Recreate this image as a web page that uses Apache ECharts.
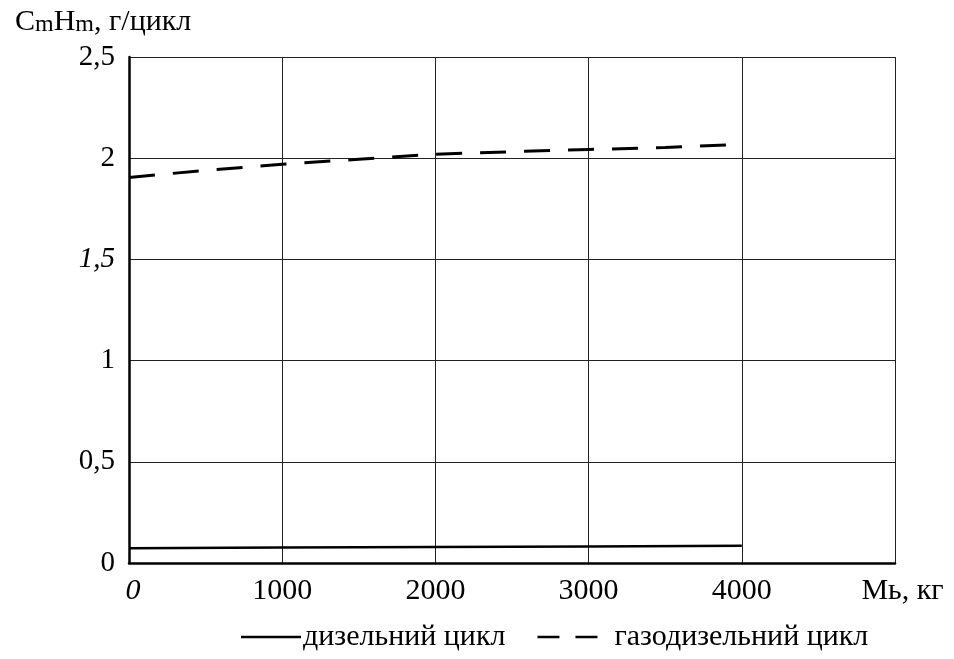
<!DOCTYPE html>
<html><head><meta charset="utf-8">
<script src="https://cdn.jsdelivr.net/npm/echarts@6/dist/echarts.min.js"></script>
<style>html,body{margin:0;padding:0;background:#fff}#c{width:954px;height:659px}</style>
</head><body><div id="c"></div>
<script>
const dieselX = [0, 1000, 2000, 3000, 4000];
const dieselY = [0.073, 0.076, 0.079, 0.082, 0.085];
const gasX = [0, 500, 1000, 1500, 2000, 2500, 3000, 3500, 3900];
const gasY = [1.905, 1.94, 1.97, 1.995, 2.02, 2.032, 2.043, 2.053, 2.065];
const xTicks = [0, 1000, 2000, 3000, 4000, 5000];
const yTicks = ['0', '0,5', '1', '1,5', '2', '2,5'];
const seriesNames = ['дизельний цикл', 'газодизельний цикл'];

const font = 'Liberation Serif';
const chart = echarts.init(document.getElementById('c'));
chart.setOption({
  animation: false,
  backgroundColor: '#fff',
  grid: { left: 129, right: 59, top: 57, bottom: 96 },
  title: {
    text: 'C{s|m}H{s|m}, г/цикл', left: 10, top: 2,
    textStyle: { fontFamily: font, fontSize: 30, fontWeight: 'normal', color: '#000',
      rich: { s: { fontFamily: font, fontSize: 24, color: '#000', padding: [5, 0, 0, 0] } } }
  },
  legend: {
    bottom: 2, left: 236, itemWidth: 60, itemHeight: 10, itemGap: 32,
    textStyle: { fontFamily: font, fontSize: 30, color: '#000', padding: [0, 0, 0, -3] },
    formatter: name => name === seriesNames[1] ? '  ' + name : name,
    data: [
      { name: seriesNames[0], icon: 'path://M0,4 L60,4 L60,6.5 L0,6.5 Z' },
      { name: seriesNames[1], icon: 'path://M0,4 L22,4 L22,6.5 L0,6.5 Z M38,4 L60,4 L60,6.5 L38,6.5 Z' }
    ]
  },
  xAxis: {
    type: 'value', min: 0, max: 5000, interval: 1000,
    axisLine: { show: true, lineStyle: { color: '#000', width: 2.5 } },
    axisTick: { show: false },
    splitLine: { show: true, lineStyle: { color: '#222', width: 1 } },
    axisLabel: {
      margin: 13, fontFamily: font, fontSize: 30, color: '#000',
      formatter: v => v === 0 ? '{i|0}' : (v === 5000 ? '  Mь, кг' : String(v)),
      rich: { i: { fontFamily: font, fontSize: 30, fontStyle: 'italic', color: '#000', padding: [0, 0, 0, 8] } }
    }
  },
  yAxis: {
    type: 'value', min: 0, max: 2.5, interval: 0.5,
    axisLine: { show: true, lineStyle: { color: '#000', width: 2.5 } },
    axisTick: { show: false },
    splitLine: { show: true, lineStyle: { color: '#222', width: 1 } },
    axisLabel: {
      margin: 14, fontFamily: font, fontSize: 29, color: '#000',
      formatter: v => { const t = yTicks[Math.round(v / 0.5)]; return t === '1,5' ? '{i|' + t + '}' : t; },
      rich: { i: { fontFamily: font, fontSize: 29, fontStyle: 'italic', color: '#000' } }
    }
  },
  series: [
    { name: seriesNames[0], type: 'line', showSymbol: false, symbol: 'none',
      data: dieselX.map((x, i) => [x, dieselY[i]]),
      lineStyle: { color: '#000', width: 2.5, type: 'solid' }, itemStyle: { color: '#000' } },
    { name: seriesNames[1], type: 'line', showSymbol: false, symbol: 'none',
      data: gasX.map((x, i) => [x, gasY[i]]),
      lineStyle: { color: '#000', width: 3, type: [26, 18] }, itemStyle: { color: '#000' } }
  ]
});
</script></body></html>
